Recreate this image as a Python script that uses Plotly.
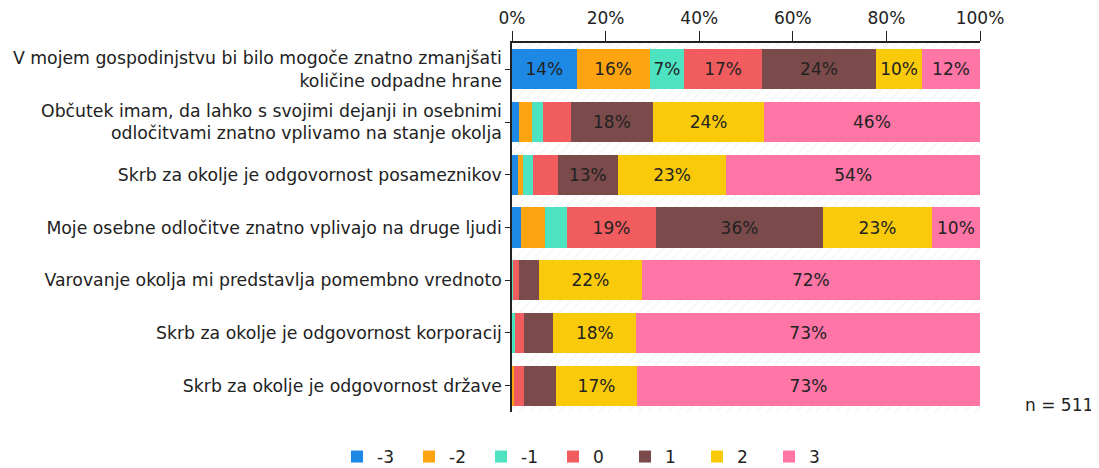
import plotly.graph_objects as go

categories = [
    "V mojem gospodinjstvu bi bilo mogoče znatno zmanjšati<br>količine odpadne hrane",
    "Občutek imam, da lahko s svojimi dejanji in osebnimi<br>odločitvami znatno vplivamo na stanje okolja",
    "Skrb za okolje je odgovornost posameznikov",
    "Moje osebne odločitve znatno vplivajo na druge ljudi",
    "Varovanje okolja mi predstavlja pomembno vrednoto",
    "Skrb za okolje je odgovornost korporacij",
    "Skrb za okolje je odgovornost države",
]
series_names = ["-3", "-2", "-1", "0", "1", "2", "3"]
v_m3 = [13.8, 1.4, 1.2, 1.9, 0.0, 0.2, 0.2]
v_m2 = [15.6, 2.8, 1.1, 5.1, 0.0, 0.0, 0.2]
v_m1 = [7.4, 2.4, 2.2, 4.8, 0.2, 0.4, 0.0]
v_0 = [16.6, 5.9, 5.3, 18.9, 1.2, 2.0, 2.1]
v_1 = [24.4, 17.7, 12.8, 35.8, 4.4, 6.2, 6.9]
v_2 = [9.8, 23.6, 23.2, 23.2, 21.9, 17.8, 17.3]
v_3 = [12.4, 46.2, 54.2, 10.3, 72.3, 73.4, 73.3]
series_values = [v_m3, v_m2, v_m1, v_0, v_1, v_2, v_3]
colors = ["#1e88e5", "#ffa411", "#4de3c1", "#f15c5e", "#7b4a4b", "#f9ca0a", "#ff75a6"]
x_ticks = [0, 20, 40, 60, 80, 100]
n_label = "n = 511"

FONT = "DejaVu Sans"
FS = 17.3
W, H = 1091, 460  # page body adds an 8px offset
L, R, T, B = 504, 119, 35, 56
PW, PH = W - L - R, H - T - B
fig = go.Figure()

# hatched background bands
fig.add_trace(go.Bar(
    y=categories, x=[100] * len(categories), orientation="h", width=1,
    marker=dict(color="white", line=dict(width=0),
                pattern=dict(shape="/", fgcolor="#e4e4e4", bgcolor="white", size=7, solidity=0.15)),
    showlegend=False, hoverinfo="skip", xaxis="x", yaxis="y",
))

for name, vals, col in zip(series_names, series_values, colors):
    fig.add_trace(go.Bar(
        name=name, y=categories, x=vals, orientation="h",
        marker=dict(color=col, line=dict(width=0)),
        text=[f"{round(v)}%" if v >= 7 else "" for v in vals],
        textposition="inside", insidetextanchor="middle", textangle=0,
        textfont=dict(family=FONT, size=17, color="#222222"),
        xaxis="x2", yaxis="y2",
    ))

fig.update_layout(
    width=W, height=H,
    barmode="stack", bargap=0.24,
    plot_bgcolor="white", paper_bgcolor="white",
    font=dict(family=FONT, size=FS, color="#222222"),
    margin=dict(l=L, r=R, t=T, b=B, autoexpand=False),
    xaxis=dict(range=[0, 100], side="top", showgrid=True, gridcolor="#dcdcdc",
               tickvals=x_ticks, ticktext=[f"{t}%" for t in x_ticks],
               showline=True, linecolor="#222222", linewidth=1.5,
               ticks="outside", ticklen=10, tickcolor="#222222", zeroline=False,
               automargin=False, tickfont=dict(size=17)),
    yaxis=dict(autorange="reversed", showline=True, linecolor="#222222", linewidth=1.5,
               ticks="outside", ticklen=5, tickcolor="#222222", automargin=False,
               tickfont=dict(size=FS)),
    xaxis2=dict(overlaying="x", range=[0, 100], visible=False, side="top"),
    yaxis2=dict(overlaying="y", autorange="reversed", visible=False),
    legend=dict(orientation="h",
                x=(329 - L) / PW, xanchor="left", y=-(449 - (T + PH)) / PH, yanchor="middle",
                font=dict(size=17), itemwidth=30, entrywidth=27, entrywidthmode="pixels",
                traceorder="normal"),
)
fig.add_annotation(text=n_label, xref="paper", yref="paper", x=1.0, y=0.0,
                   xanchor="right", yanchor="middle", xshift=115, yshift=7,
                   showarrow=False, font=dict(size=17))
fig.write_html("out.html")
